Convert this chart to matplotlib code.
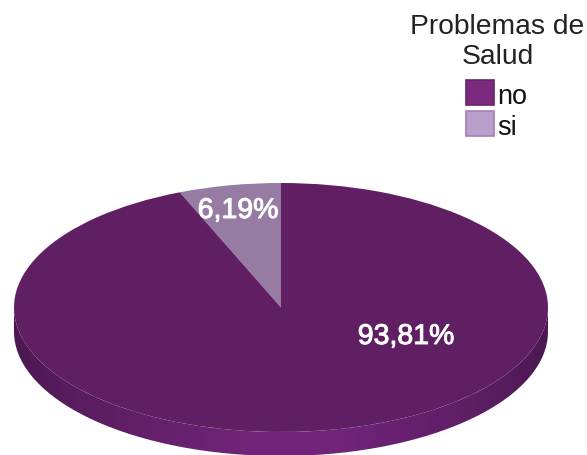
import numpy as np
import matplotlib
matplotlib.use("Agg")
import matplotlib.pyplot as plt
import matplotlib.patheffects as pe
from matplotlib.colors import LinearSegmentedColormap
from matplotlib.patches import PathPatch, Rectangle
from matplotlib.path import Path

plt.rcParams['font.family'] = ['Liberation Sans', 'DejaVu Sans']

# datos
categorias = ["no", "si"]
porcentajes = [93.81, 6.19]
titulo_leyenda = ["Problemas de", "Salud"]

col_cara = ["#611f63", "#967ca2"]
col_leyenda = ["#7b2a80", "#b99fcb"]
col_borde = ["#6a2270", "#a47cb6"]

W, H = 587, 455
fig = plt.figure(figsize=(W / 100, H / 100), dpi=100)

# geometria del pastel en pixeles (centro, radios de la elipse, grosor)
cx, cy, rx, ry, prof = 281, 307.5, 267, 124.5, 24
d = prof / ry

ax = fig.add_axes([0, 0, 1, 1])

# lateral (solo se ve el frente, que es todo "no")
th = np.linspace(np.pi, 2 * np.pi, 200)
xs = np.concatenate([np.cos(th), np.cos(th[::-1])])
ys = np.concatenate([np.sin(th), np.sin(th[::-1]) - d])
lado = PathPatch(Path(np.column_stack([xs, ys])), facecolor="none", edgecolor="none")
ax.add_patch(lado)
cmap = LinearSegmentedColormap.from_list(
    "lado", [(0, "#4b1950"), (0.12, "#5a1d60"), (0.45, "#722479"),
             (0.62, "#70237a"), (0.88, "#5c1e62"), (1, "#4a1950")])
img = ax.imshow(np.linspace(0, 1, 256).reshape(1, -1), cmap=cmap,
                extent=(-1, 1, -1 - d, 0), aspect="auto", zorder=0.5)
img.set_clip_path(lado)

# cara superior
ax.pie(porcentajes[::-1], colors=col_cara[::-1], startangle=90, counterclock=True,
       radius=1, center=(0, 0), wedgeprops=dict(linewidth=0))

ax.set_aspect("auto")
ax.set_xlim(-cx / rx, (W - cx) / rx)
ax.set_ylim((cy - H) / ry, cy / ry)
ax.axis("off")

# etiquetas de porcentaje
pos_etq = {"no": (406, 337), "si": (238, 211)}
for cat, v in zip(categorias, porcentajes):
    px, py = pos_etq[cat]
    ax.text((px - cx) / rx, (cy - py) / ry, f"{v:.2f}".replace(".", ",") + "%",
            color="white", fontsize=20.5, ha="center", va="center",
            path_effects=[pe.withStroke(linewidth=0.7, foreground="white")])

# leyenda a mano, en pixeles
lg = fig.add_axes([0, 0, 1, 1])
lg.set_xlim(0, W)
lg.set_ylim(H, 0)
lg.axis("off")
lg.patch.set_alpha(0)
lg.text(497.5, 34, titulo_leyenda[0], fontsize=20.3, ha="center", va="baseline", color="#222222")
lg.text(497.5, 64, titulo_leyenda[1], fontsize=20.3, ha="center", va="baseline", color="#222222")
for i, cat in enumerate(categorias):
    y0 = 80 + i * 31
    lg.add_patch(Rectangle((466, y0), 28, 25, facecolor=col_leyenda[i],
                           edgecolor=col_borde[i], linewidth=1.2))
    lg.text(497, y0 + 24, cat, fontsize=19.5, ha="left", va="baseline", color="#111111")

fig.savefig("out.png", dpi=100)
